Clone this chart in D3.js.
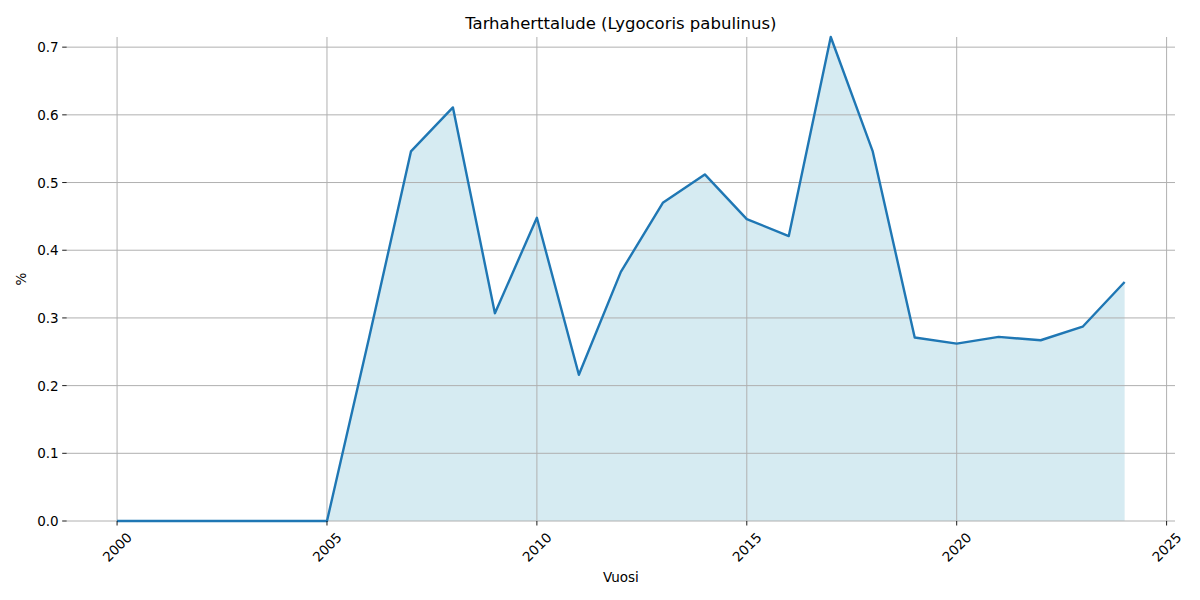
<!DOCTYPE html>
<html><head><meta charset="utf-8">
<script src="https://cdn.jsdelivr.net/npm/d3@7"></script>
<style>body{margin:0;background:#fff}svg{display:block;font-family:"DejaVu Sans",sans-serif}</style>
</head><body>
<svg id="c" width="1200" height="600"></svg>
<script>
const years = [2000,2001,2002,2003,2004,2005,2006,2007,2008,2009,2010,2011,2012,2013,2014,2015,2016,2017,2018,2019,2020,2021,2022,2023,2024];
const values = [0,0,0,0,0,0,0.27,0.546,0.611,0.307,0.448,0.216,0.368,0.470,0.512,0.446,0.421,0.715,0.546,0.271,0.262,0.272,0.267,0.287,0.353];
const xTicks = [2000,2005,2010,2015,2020,2025];
const yTicks = [0,0.1,0.2,0.3,0.4,0.5,0.6,0.7];
const title = "Tarhaherttalude (Lygocoris pabulinus)";

const svg = d3.select("#c");
const L=66.7,R=1175,T=37,B=521;
const x = d3.scaleLinear().domain([1998.8,2025.2]).range([L,R]);
const y = d3.scaleLinear().domain([0,d3.max(values)]).range([B,T]);
const data = years.map((yr,i)=>({yr,v:values[i]}));

// fill
const area = d3.area().x(d=>x(d.yr)).y0(y(0)).y1(d=>y(d.v));
svg.append("path").datum(data).attr("d",area).attr("fill","#add8e6").attr("fill-opacity",0.5);

// grid (above fill, below line)
const g = svg.append("g");
g.selectAll(".gx").data(xTicks).join("line").attr("x1",d=>x(d)).attr("x2",d=>x(d)).attr("y1",T).attr("y2",B).attr("stroke","#b0b0b0").attr("stroke-width",1);
g.selectAll(".gy").data(yTicks).join("line").attr("x1",L).attr("x2",R).attr("y1",d=>y(d)).attr("y2",d=>y(d)).attr("stroke","#b0b0b0").attr("stroke-width",1);

// line
const line = d3.line().x(d=>x(d.yr)).y(d=>y(d.v));
svg.append("path").datum(data).attr("d",line).attr("fill","none").attr("stroke","#1f77b4").attr("stroke-width",2.4).attr("stroke-linejoin","round");

// x ticks
const xt = svg.append("g");
xt.selectAll("line").data(xTicks).join("line").attr("x1",d=>x(d)).attr("x2",d=>x(d)).attr("y1",B).attr("y2",B+4.5).attr("stroke","#000").attr("stroke-width",0.9);
xt.selectAll("text").data(xTicks).join("text")
  .attr("transform",d=>`translate(${x(d)},547) rotate(-45)`)
  .attr("text-anchor","middle").attr("dominant-baseline","central")
  .attr("font-size",13.5).text(d=>d);

// y ticks
const yt = svg.append("g");
yt.selectAll("line").data(yTicks).join("line").attr("x1",L-4.5).attr("x2",L).attr("y1",d=>y(d)).attr("y2",d=>y(d)).attr("stroke","#000").attr("stroke-width",0.9);
yt.selectAll("text").data(yTicks).join("text")
  .attr("x",L-8).attr("y",d=>y(d)).attr("text-anchor","end").attr("dominant-baseline","central")
  .attr("font-size",13.5).text(d=>d.toFixed(1));

svg.append("text").attr("x",(L+R)/2).attr("y",29).attr("text-anchor","middle").attr("font-size",16.5).text(title);
svg.append("text").attr("x",(L+R)/2).attr("y",582).attr("text-anchor","middle").attr("font-size",13.5).text("Vuosi");
svg.append("text").attr("transform",`translate(26,${(T+B)/2}) rotate(-90)`).attr("text-anchor","middle").attr("font-size",13.5).text("%");
</script>
</body></html>
